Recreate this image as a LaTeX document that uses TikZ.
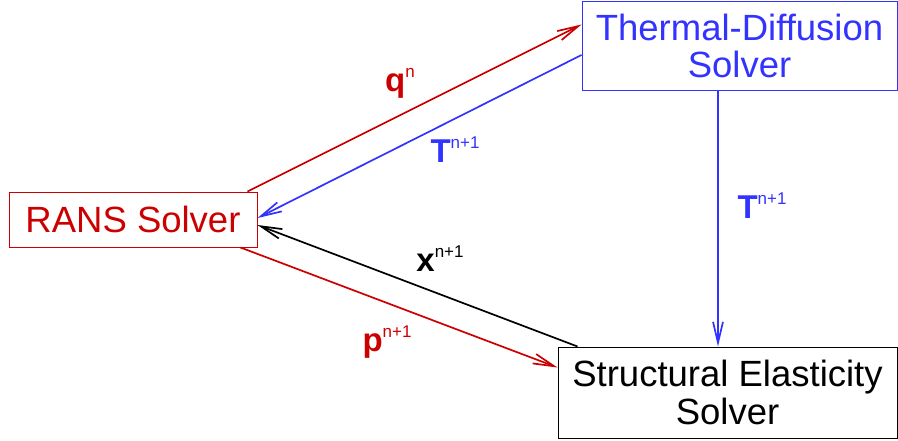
\documentclass[tikz,border=0pt]{standalone}
\usepackage{fontspec}
\setmainfont{Liberation Sans}
\usetikzlibrary{arrows.meta,calc}
\definecolor{ransred}{RGB}{204,0,0}
\definecolor{tdblue}{RGB}{51,51,255}
\newcommand{\flux}[2]{{\fontsize{33}{33}\selectfont\bfseries #1}\raisebox{14pt}{\fontsize{17}{17}\selectfont #2}}

\begin{document}
\begin{tikzpicture}[x=1pt, y=-1pt,
  solver/.style={draw, rectangle, line width=1pt, align=center, inner sep=0pt,
    font=\fontsize{36.5}{37.5}\selectfont},
  link/.style={line width=1.7pt, line join=miter, -{Straight Barb[length=21pt,width=10pt]}}]
\useasboundingbox (0,0) rectangle (898,440);
\node[solver, ransred, minimum width=248pt, minimum height=55pt] (rans) at (133,219.5) {RANS Solver};
\node[solver, tdblue, minimum width=315pt, minimum height=89pt] (thermal) at (739.5,46) {Thermal-Diffusion\\Solver};
\node[solver, black, minimum width=339pt, minimum height=91pt] (struct) at (727.5,392.5) {Structural Elasticity\\Solver};
% exchanged fields
\draw[link, ransred] ([xshift=-10pt]rans.north east) -- ([yshift=21.5pt]thermal.west);
\draw[link, tdblue] ([yshift=-9pt]thermal.west) -- ([yshift=1.5pt]rans.east);
\draw[link, black] ([xshift=20pt]struct.north west) -- ([yshift=-5.5pt]rans.east);
\draw[link, ransred] ([xshift=-17pt]rans.south east) -- ([yshift=25pt]struct.west);
\draw[link, tdblue] ([xshift=-21.5pt]thermal.south) coordinate (tdout) -- (tdout |- struct.north);
\node[ransred] (qlbl) at (400,83) {\flux{q}{n}};
\node[tdblue] (tlbl) at (455,150) {\flux{T}{n+1}};
\node[black] (xlbl) at (440,259) {\flux{x}{n+1}};
\node[ransred] (plbl) at (387,342) {\flux{p}{n+1}};
\node[tdblue] (tslbl) at (762,206) {\flux{T}{n+1}};
\end{tikzpicture}
\end{document}
